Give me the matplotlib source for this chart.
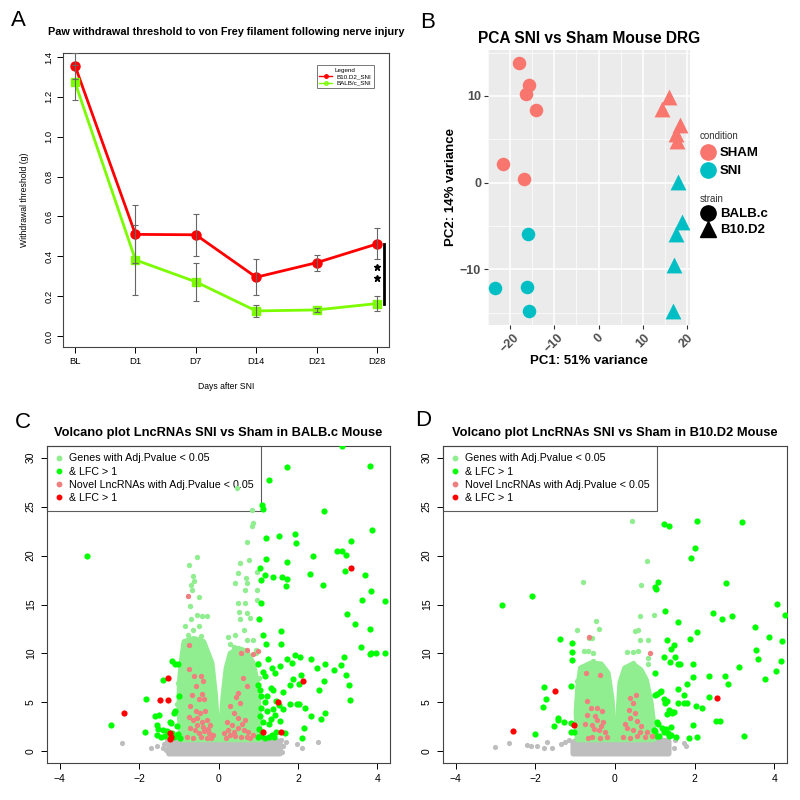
import numpy as np
import matplotlib
matplotlib.use('Agg')
import matplotlib.pyplot as plt
from matplotlib.lines import Line2D

plt.rcParams['font.family'] = ['Liberation Sans', 'DejaVu Sans']

# ── A: von Frey 역치 (평균 ± SEM) ──────────────────────────────────────
DAYS = ['BL', 'D1', 'D7', 'D14', 'D21', 'D28']
b10_mean = [1.355, 0.510, 0.508, 0.295, 0.368, 0.462]
b10_err = [0.065, 0.145, 0.105, 0.090, 0.040, 0.078]
balb_mean = [1.272, 0.382, 0.272, 0.126, 0.131, 0.163]
balb_err = [0.090, 0.175, 0.095, 0.032, 0.012, 0.036]

# ── B: PCA 좌표 ────────────────────────────────────────────────────────
sham_balb_pc1 = [-17.9, -15.7, -16.5, -14.1, -21.7, -16.9]
sham_balb_pc2 = [13.8, 11.3, 10.2, 8.4, 2.2, 0.4]
sni_balb_pc1 = [-16.0, -23.4, -16.2, -15.7]
sni_balb_pc2 = [-5.9, -12.1, -12.0, -14.8]
sham_b10_pc1 = [16.0, 14.3, 18.5, 17.6, 17.8]
sham_b10_pc2 = [9.9, 8.5, 6.6, 5.6, 4.8]
sni_b10_pc1 = [18.0, 19.0, 17.5, 17.1, 16.8]
sni_b10_pc2 = [0.1, -4.5, -5.9, -9.5, -14.8]

# ── C: volcano BALB.c (LFC, -log10 padj) ──────────────────────────────
# 빽빽한 구름 중심부는 점 대신 윤곽선으로 읽음
C_band_x = [-1.25, -1.25, -0.9, -0.06, 0.0, 0.06, 1.0, 1.55, 1.55]
C_band_y = [-0.25, 0.9, 1.3, 1.3, 0.7, 1.3, 1.3, 1.0, -0.25]
C_core_left_x = [-0.93, -0.99, -0.98, -0.92, -0.86, -0.62, -0.38, -0.17, -0.08, -0.03, -0.02]
C_core_left_y = [1.2, 4.0, 7.0, 9.5, 11.2, 11.5, 11.2, 9.0, 5.6, 2.5, 1.2]
C_core_right_x = [0.03, 0.07, 0.12, 0.20, 0.30, 0.50, 0.70, 0.87, 0.97, 1.02, 1.03]
C_core_right_y = [1.2, 3.0, 5.6, 8.5, 10.0, 10.5, 10.2, 9.0, 7.0, 4.0, 1.2]
C_ns = [(-2.43, 0.8), (-1.69, 0.35), (-1.40, 0.35), (-1.38, 0.7), (-1.55, 0.5), (1.70, 0.95),
        (1.97, 0.7), (2.10, 0.35), (2.51, 0.95), (1.57, 1.1), (1.62, 0.5), (-1.30, 1.0),
        (-1.32, 0.1), (1.60, -0.1)]
C_sig = [(-0.53, 19.9), (-0.74, 19.0), (-0.64, 17.9), (-0.61, 17.4), (-0.69, 17.0), (-0.67, 16.5),
         (-0.49, 15.8), (-0.73, 14.8), (-0.84, 12.8), (-0.69, 13.5), (-0.54, 13.9), (-0.42, 13.8),
         (-0.29, 13.8), (-0.48, 12.8), (-0.63, 12.4), (-0.78, 11.9), (-0.43, 11.8), (-0.90, 10.9),
         (-0.54, 11.1), (-0.38, 10.9), (-0.90, 9.7), (-0.92, 9.0), (-0.88, 8.7), (-0.98, 8.0),
         (-1.02, 7.0), (-0.99, 6.0), (-1.05, 4.8), (-0.30, 10.0),
         (0.46, 26.9), (0.85, 24.7), (0.85, 23.0), (0.88, 23.3), (0.73, 21.4), (0.54, 19.2),
         (0.78, 19.5), (0.96, 18.3), (0.48, 18.2), (0.42, 17.2), (0.69, 17.7), (0.72, 17.2),
         (0.48, 15.2), (0.52, 14.2), (0.67, 16.5), (0.68, 15.2), (0.72, 14.1), (0.80, 13.6),
         (0.96, 16.5), (0.53, 13.5), (0.64, 12.4), (0.25, 11.7), (0.42, 11.9), (0.71, 11.4),
         (0.88, 11.4), (0.38, 10.7), (0.95, 10.4), (0.95, 10.0), (0.96, 15.5), (0.30, 11.0),
         (1.00, 9.0), (1.02, 7.5)]
C_lfc = [(-3.31, 20.0), (-2.70, 2.7), (-1.83, 5.35), (-1.84, 2.0), (-1.40, 7.3), (-1.59, 3.6),
         (-1.51, 3.7), (-1.55, 2.7), (-1.52, 2.3), (-1.56, 1.7), (-1.16, 9.2), (-1.09, 8.9),
         (-1.02, 8.9), (-1.13, 3.9), (-1.09, 4.1), (-1.23, 3.0), (-0.99, 5.6), (-1.19, 2.9),
         (-1.35, 1.6), (-1.30, 2.1), (-1.17, 1.9), (-1.12, 1.5), (-1.02, 1.8), (-0.98, 1.4),
         (-1.40, 2.2), (-1.05, 2.6), (-1.45, 1.5),
         (1.05, 18.7), (1.07, 17.5), (1.17, 18.0), (1.19, 19.6), (1.38, 17.8), (1.59, 17.8),
         (1.72, 19.3), (1.72, 17.6), (1.70, 16.9), (1.07, 15.2), (1.03, 13.5), (1.13, 11.9),
         (1.19, 11.0), (1.57, 12.3), (1.57, 11.0), (1.09, 25.2), (1.13, 24.8), (1.28, 27.7),
         (1.72, 29.1), (1.53, 22.0), (1.20, 21.8), (1.92, 22.2), (1.95, 21.3), (2.38, 20.0),
         (2.30, 18.1), (2.62, 17.0), (2.65, 24.6), (3.10, 31.2), (3.82, 29.2), (3.86, 22.6),
         (3.35, 21.5), (2.99, 20.5), (3.12, 20.5), (3.22, 20.1), (3.18, 18.4), (3.68, 18.0),
         (3.84, 16.4), (3.62, 15.5), (4.20, 15.4), (3.24, 14.0), (3.45, 13.0), (3.81, 12.5),
         (3.58, 10.7), (3.81, 9.9), (3.85, 10.0), (3.97, 10.0), (4.20, 10.0), (3.16, 9.6),
         (3.08, 8.8), (2.90, 8.3), (2.68, 8.9), (2.49, 8.5), (2.33, 9.4), (2.05, 9.6), (1.92, 9.8),
         (1.86, 9.0), (1.72, 9.4), (1.55, 8.7), (1.34, 8.5), (1.24, 9.4), (1.00, 8.9), (1.13, 8.1),
         (1.17, 7.7), (1.42, 8.0), (1.31, 6.5), (1.38, 6.3), (1.63, 6.1), (1.80, 6.8), (1.88, 7.4),
         (2.03, 6.9), (2.09, 7.8), (2.54, 6.3), (2.66, 7.2), (3.22, 7.8), (3.28, 6.8), (3.32, 5.2),
         (2.68, 3.9), (2.59, 3.3), (2.34, 3.6), (2.19, 4.4), (2.03, 4.8), (1.97, 4.8), (1.80, 4.8),
         (1.63, 4.3), (1.53, 4.7), (1.46, 5.1), (1.38, 4.3), (1.42, 3.7), (1.31, 3.3), (1.21, 4.1),
         (1.17, 5.0), (1.07, 4.4), (1.05, 3.6), (1.13, 3.0), (1.28, 2.8), (1.55, 3.1), (1.67, 1.9),
         (2.15, 2.4), (2.11, 1.4), (1.00, 1.5), (1.08, 1.6), (1.16, 1.4), (1.26, 1.5), (1.34, 1.7),
         (1.00, 6.8), (1.05, 6.3), (1.06, 5.6), (1.21, 5.6), (1.45, 2.0), (1.40, 1.5), (1.02, 2.3),
         (1.10, 2.0)]
C_novel = [(-0.77, 15.9), (-0.75, 10.9), (-0.74, 8.4), (-0.61, 7.7), (-0.44, 7.7), (-0.38, 7.2),
           (-0.57, 6.7), (-0.42, 5.9), (-0.67, 5.7), (-0.50, 5.3), (-0.36, 5.3), (-0.71, 4.6),
           (-0.57, 4.1), (-0.46, 3.9), (-0.34, 4.1), (-0.75, 3.5), (-0.63, 3.2), (-0.53, 3.4),
           (-0.42, 3.0), (-0.29, 3.2), (-0.21, 2.7), (-0.71, 2.4), (-0.59, 2.2), (-0.48, 1.9),
           (-0.36, 2.1), (-0.25, 1.9), (-0.13, 1.7), (-0.79, 1.5), (-0.63, 1.4), (-0.44, 1.5),
           (-0.30, 1.4), (-0.18, 1.4), (-0.55, 2.7), (-0.38, 2.5), (-0.27, 2.3),
           (0.71, 10.3), (0.56, 10.0), (0.86, 9.9), (0.99, 10.2), (0.61, 7.5), (0.71, 6.7),
           (0.49, 6.0), (0.54, 4.9), (0.29, 4.6), (0.38, 3.9), (0.50, 3.4), (0.67, 3.2), (0.21, 3.0),
           (0.34, 2.7), (0.48, 2.4), (0.63, 2.2), (0.75, 2.0), (0.15, 1.9), (0.29, 1.7), (0.42, 1.6),
           (0.56, 1.5), (0.71, 1.5), (0.88, 1.7), (0.25, 2.2), (0.40, 2.0), (0.20, 1.4), (0.60, 2.8),
           (0.45, 5.5), (0.80, 1.4)]
C_novel_lfc = [(-2.37, 3.9), (-1.48, 5.2), (-1.28, 5.2), (-1.26, 7.5), (-1.21, 1.9), (-1.20, 1.5),
               (-1.21, 1.3), (2.13, 7.2), (1.51, 5.0), (1.11, 2.0), (1.57, 2.0), (3.33, 18.7)]

# ── D: volcano B10.D2 ──────────────────────────────────────────────────
D_band_x = [-1.05, -1.05, -0.9, -0.06, 0.0, 0.06, 0.95, 1.35, 1.35]
D_band_y = [-0.25, 0.9, 1.3, 1.3, 0.7, 1.3, 1.3, 1.0, -0.25]
D_core_left_x = [-0.94, -0.97, -0.93, -0.86, -0.60, -0.35, -0.18, -0.08, -0.03, -0.02]
D_core_left_y = [1.2, 4.0, 6.5, 8.5, 9.0, 8.9, 8.0, 5.3, 2.5, 1.2]
D_core_right_x = [0.03, 0.06, 0.09, 0.13, 0.25, 0.45, 0.65, 0.78, 0.90, 0.96, 0.97]
D_core_right_y = [1.2, 2.5, 4.3, 7.0, 8.5, 8.9, 8.3, 7.3, 5.0, 3.0, 1.2]
D_ns = [(-3.02, 0.4), (-2.67, 0.85), (-2.20, 0.6), (-2.10, 0.5), (-1.95, 0.5), (-1.78, 0.3),
        (-1.70, 0.9), (-1.58, 0.3), (-1.36, 0.7), (-1.26, 0.9), (-1.16, 1.1), (1.47, 0.3),
        (1.74, 0.85), (1.79, 0.5), (1.50, 1.1)]
D_sig = [(0.42, 23.5), (0.81, 19.4), (-0.80, 17.3), (0.65, 17.0), (0.98, 13.9), (-0.48, 13.3),
         (-0.41, 12.5), (-0.96, 12.4), (0.63, 13.8), (0.59, 12.4), (0.49, 12.3), (0.84, 11.4),
         (0.63, 11.4), (-0.78, 10.2), (-0.68, 10.2), (-0.55, 10.0), (-0.66, 11.6), (-0.58, 11.6),
         (0.30, 10.1), (0.45, 10.1), (0.58, 10.2), (0.84, 9.5), (0.84, 8.9), (0.44, 9.0),
         (0.50, 8.5), (-0.55, 9.2), (-0.80, 7.6), (-0.95, 7.2), (-0.92, 5.9), (-0.30, 8.3)]
D_lfc = [(-2.83, 14.9), (-2.08, 15.9), (-1.37, 11.5), (-1.07, 11.1), (-1.09, 10.1), (-1.09, 9.3),
         (-1.11, 6.7), (-1.79, 6.6), (-1.74, 5.3), (-1.82, 4.5), (-1.42, 3.4), (-1.44, 3.2),
         (-1.53, 2.6), (-1.27, 3.0), (-1.11, 2.9), (-1.11, 2.0), (-1.02, 2.0), (-2.02, 1.8),
         (1.22, 23.2), (1.35, 23.0), (2.05, 23.5), (3.20, 23.4), (2.02, 20.8), (1.90, 19.8),
         (1.09, 17.3), (1.01, 16.8), (1.03, 16.6), (2.78, 17.2), (2.47, 14.1), (2.69, 13.5),
         (2.95, 13.8), (4.08, 15.1), (4.28, 13.9), (1.26, 14.3), (1.58, 13.2), (2.07, 12.2),
         (1.88, 11.5), (1.30, 11.4), (1.47, 10.9), (1.41, 10.5), (3.51, 12.7), (3.87, 11.7),
         (4.20, 11.3), (3.55, 10.4), (3.59, 9.4), (4.18, 9.2), (4.05, 8.2), (3.78, 7.4),
         (3.11, 8.6), (2.77, 7.7), (2.83, 6.9), (2.36, 7.7), (1.97, 8.9), (1.97, 7.6), (1.80, 6.9),
         (1.51, 9.6), (1.58, 8.9), (1.62, 8.9), (1.22, 9.6), (1.37, 9.1), (1.01, 8.0), (1.58, 6.4),
         (1.73, 5.7), (1.59, 4.9), (1.74, 4.9), (1.80, 4.9), (2.03, 4.6), (2.19, 4.4), (2.36, 5.5),
         (2.54, 3.1), (2.64, 3.1), (3.25, 1.6), (1.97, 2.7), (1.87, 1.4), (2.05, 1.5), (1.54, 1.5),
         (1.22, 5.3), (1.26, 4.9), (1.30, 5.1), (1.43, 4.0), (1.05, 5.9), (1.12, 6.1), (1.16, 6.2),
         (1.01, 5.7), (1.30, 3.8), (1.36, 4.2), (1.42, 3.9), (1.48, 4.0), (1.05, 3.0), (1.07, 2.8),
         (1.17, 2.4), (1.22, 2.0), (1.28, 2.3), (1.33, 1.9), (1.40, 2.5), (1.05, 1.6), (1.10, 1.6),
         (1.40, 1.7), (1.35, 1.6), (1.00, 2.1), (0.98, 2.2)]
D_novel = [(-0.66, 11.7), (-0.74, 8.0), (-0.38, 7.8), (-0.71, 5.1), (-0.60, 4.4), (-0.46, 4.4),
           (-0.33, 4.1), (-0.71, 3.7), (-0.46, 3.2), (-0.29, 3.0), (-0.59, 2.7), (-0.40, 2.2),
           (-0.25, 2.0), (-0.59, 1.5), (-0.38, 1.4), (-0.21, 1.5), (-0.68, 1.4), (-0.52, 2.3),
           (-0.34, 2.6), (-0.50, 3.6), (-0.75, 2.8),
           (0.88, 10.0), (0.52, 5.8), (0.38, 5.4), (0.46, 4.9), (0.36, 4.2), (0.50, 3.9), (0.38, 3.4),
           (0.56, 3.1), (0.29, 2.4), (0.46, 2.2), (0.63, 2.0), (0.80, 2.0), (0.19, 1.5), (0.38, 1.4),
           (0.56, 1.6), (0.75, 1.5), (0.25, 2.8), (0.66, 2.6), (0.92, 1.6)]
D_novel_lfc = [(-2.57, 2.1), (-1.51, 6.2), (-1.03, 2.7), (2.56, 5.4)]

VOLCANO_LABELS = ['Genes with Adj.Pvalue < 0.05', '& LFC > 1',
                  'Novel LncRNAs with Adj.Pvalue < 0.05', '& LFC > 1']
COL_NS, COL_SIG, COL_LFC = '#BEBEBE', '#90EE90', '#00FF00'
COL_NOVEL, COL_NOVEL_LFC = '#F08080', '#FF0000'

W = H = 800
fig = plt.figure(figsize=(8, 8), dpi=100)


def px_axes(left, top, right, bottom):
    """픽셀 좌표(왼,위,오,아래)로 축 배치"""
    return fig.add_axes([left / W, 1 - bottom / H, (right - left) / W, (bottom - top) / H])


# ── 패널 A ─────────────────────────────────────────────────────────────
ax = px_axes(63, 53, 389, 347)
x = np.arange(len(DAYS))
ax.plot(x, b10_mean, color='red', lw=2, marker='o', ms=6.5, zorder=3)
ax.plot(x, balb_mean, color='#7CFC00', lw=2, marker='s', ms=6, zorder=3)
ax.errorbar(x, b10_mean, yerr=b10_err, fmt='none', ecolor='#666666', elinewidth=0.8,
            capsize=2.5, capthick=0.8, zorder=4)
ax.errorbar(x, balb_mean, yerr=balb_err, fmt='none', ecolor='#666666', elinewidth=0.8,
            capsize=2.5, capthick=0.8, zorder=4)
ax.plot([5.12, 5.12], [balb_mean[-1], b10_mean[-1]], color='black', lw=2)
ax.plot([5.0, 5.0], [0.345, 0.292], ls='', marker='*', color='black', ms=4.5)
ax.set_xlim(-0.2, 5.2)
ax.set_ylim(-0.055, 1.42)
ax.set_xticks(x)
ax.set_xticklabels(DAYS, fontsize=6.8)
ax.set_yticks(np.arange(0, 1.41, 0.2))
ax.set_yticklabels([f'{v:.1f}' for v in np.arange(0, 1.41, 0.2)], fontsize=6.8,
                   rotation=90, va='center')
ax.tick_params(length=4, width=0.7, pad=3)
for s in ax.spines.values():
    s.set_linewidth(0.8)
    s.set_color('#444444')
ax.set_xlabel('Days after SNI', fontsize=6.2)
ax.xaxis.set_label_coords(0.5, -0.12)
ax.set_ylabel('Withdrawal threshold (g)', fontsize=6.2)
ax.yaxis.set_label_coords(-0.105, 0.5)
ax.text(0.5, 1 + 21 / 294, 'Paw withdrawal threshold to von Frey filament following nerve injury',
        transform=ax.transAxes, ha='center', va='center', fontsize=7.8, fontweight='bold')
leg_handles = [Line2D([], [], color='red', lw=1, marker='o', ms=2.5),
               Line2D([], [], color='#7CFC00', lw=1, marker='o', ms=2.5, mfc='none')]
leg = ax.legend(leg_handles, ['B10.D2_SNI', 'BALB/c_SNI'], title='Legend', fontsize=4.5,
                title_fontsize=4.5, loc='upper right', bbox_to_anchor=(0.954, 0.959),
                borderaxespad=0, fancybox=False, edgecolor='#555555', handlelength=2.0,
                labelspacing=0.2)
leg.get_frame().set_linewidth(0.7)

# ── 패널 B ─────────────────────────────────────────────────────────────
axb = px_axes(488, 50, 690, 325)
axb.set_facecolor('#EBEBEB')
for s in axb.spines.values():
    s.set_visible(False)
axb.set_xlim(-25, 20.7)
axb.set_ylim(-16.4, 15.3)
axb.set_xticks([-20, -10, 0, 10, 20])
axb.set_xticks([-25, -15, -5, 5, 15], minor=True)
axb.set_yticks([-10, 0, 10])
axb.set_yticks([-15, -5, 5, 15], minor=True)
axb.grid(which='major', color='white', lw=1.1)
axb.grid(which='minor', color='white', lw=0.5)
axb.set_axisbelow(True)
axb.tick_params(which='minor', length=0)
axb.tick_params(which='major', length=3, color='#333333', labelcolor='#4D4D4D', pad=2)
axb.set_xticklabels(['−20', '−10', '0', '10', '20'], rotation=45, ha='center', va='top',
                    fontsize=9, fontweight='bold')
axb.set_yticklabels(['−10', '0', '10'], fontsize=9, fontweight='bold')
SHAM_C, SNI_C = '#F8766D', '#00BFC4'
axb.scatter(sham_balb_pc1, sham_balb_pc2, s=95, color=SHAM_C, marker='o', lw=0, zorder=3)
axb.scatter(sni_balb_pc1, sni_balb_pc2, s=95, color=SNI_C, marker='o', lw=0, zorder=3)
axb.scatter(sham_b10_pc1, sham_b10_pc2, s=130, color=SHAM_C, marker='^', lw=0, zorder=3)
axb.scatter(sni_b10_pc1, sni_b10_pc2, s=130, color=SNI_C, marker='^', lw=0, zorder=3)
axb.set_xlabel('PC1: 51% variance', fontsize=9.5, fontweight='bold', labelpad=0)
axb.set_ylabel('PC2: 14% variance', fontsize=9.5, fontweight='bold', labelpad=2)
axb.set_title('PCA SNI vs Sham Mouse DRG', fontsize=11.2, fontweight='bold', pad=5)

cond_h = [Line2D([], [], ls='', marker='o', ms=11, color=c) for c in (SHAM_C, SNI_C)]
strain_h = [Line2D([], [], ls='', marker=m, ms=11, color='black') for m in ('o', '^')]
lg1 = fig.legend(cond_h, ['SHAM', 'SNI'], title='condition', loc='upper left',
                 bbox_to_anchor=(700 / W, 1 - 131 / H), frameon=False, alignment='left',
                 prop={'weight': 'bold', 'size': 9.5}, title_fontsize=7, borderpad=0,
                 borderaxespad=0, handlelength=1.2, handletextpad=0.3, labelspacing=0.45)
lg1.get_title().set_color('#333333')
lg2 = fig.legend(strain_h, ['BALB.c', 'B10.D2'], title='strain', loc='upper left',
                 bbox_to_anchor=(700 / W, 1 - 194 / H), frameon=False, alignment='left',
                 prop={'weight': 'bold', 'size': 9.5}, title_fontsize=7, borderpad=0,
                 borderaxespad=0, handlelength=1.2, handletextpad=0.3, labelspacing=0.3)
lg2.get_title().set_color('#333333')


# ── 패널 C, D: volcano ─────────────────────────────────────────────────
def volcano(ax, band, cores, ns, sig, lfc, novel, novel_lfc, title):
    ax.fill(band[0], band[1], fc=COL_NS, ec=COL_NS, lw=4, joinstyle='round', zorder=2)
    for cx, cy in cores:
        ax.fill(cx, cy, fc=COL_SIG, ec=COL_SIG, lw=4, joinstyle='round', zorder=3)
    for pts, col, size, z in [(ns, COL_NS, 14, 2), (sig, COL_SIG, 15, 3), (lfc, COL_LFC, 20, 4),
                              (novel, COL_NOVEL, 15, 5), (novel_lfc, COL_NOVEL_LFC, 20, 6)]:
        px, py = np.array(pts).T
        ax.scatter(px, py, s=size, color=col, lw=0, zorder=z)
    ax.set_xlim(-4.32, 4.32)
    ax.set_ylim(-1.2, 31.2)
    ax.set_xticks([-4, -2, 0, 2, 4])
    ax.set_xticklabels(['−4', '−2', '0', '2', '4'], fontsize=7.5)
    ax.set_yticks([0, 5, 10, 15, 20, 25, 30])
    ax.set_yticklabels(['0', '5', '10', '15', '20', '25', '30'], fontsize=7.5, rotation=90,
                       va='center')
    ax.tick_params(length=4, width=0.7, pad=4)
    for s in ax.spines.values():
        s.set_linewidth(0.8)
        s.set_color('#444444')
    ax.text(0.5, 1 + 13 / 317, title, transform=ax.transAxes, ha='center', va='center',
            fontsize=9.3, fontweight='bold')
    handles = [Line2D([], [], ls='', marker='o', ms=3.2, color=c)
               for c in (COL_SIG, COL_LFC, COL_NOVEL, COL_NOVEL_LFC)]
    lg = ax.legend(handles, VOLCANO_LABELS, loc='upper left', bbox_to_anchor=(0, 1),
                   borderaxespad=0, fancybox=False, edgecolor='#333333', fontsize=7.7,
                   handlelength=0.8, handletextpad=0.55, labelspacing=0.3, borderpad=0.7)
    lg.get_frame().set_facecolor('none')
    lg.get_frame().set_linewidth(0.8)
    lg.set_zorder(1)


axc = px_axes(47, 446, 390, 763)
volcano(axc, (C_band_x, C_band_y), [(C_core_left_x, C_core_left_y), (C_core_right_x, C_core_right_y)],
        C_ns, C_sig, C_lfc, C_novel, C_novel_lfc, 'Volcano plot LncRNAs SNI vs Sham in BALB.c Mouse')
axd = px_axes(443, 446, 787, 763)
volcano(axd, (D_band_x, D_band_y), [(D_core_left_x, D_core_left_y), (D_core_right_x, D_core_right_y)],
        D_ns, D_sig, D_lfc, D_novel, D_novel_lfc, 'Volcano plot LncRNAs SNI vs Sham in B10.D2 Mouse')

# ── 패널 문자 ───────────────────────────────────────────────────────────
for lab, (px_, py_) in {'A': (18, 20), 'B': (428, 23), 'C': (23, 422), 'D': (423, 420)}.items():
    fig.text(px_ / W, 1 - py_ / H, lab, fontsize=16, ha='center', va='center')

fig.savefig('out.png', dpi=100)
